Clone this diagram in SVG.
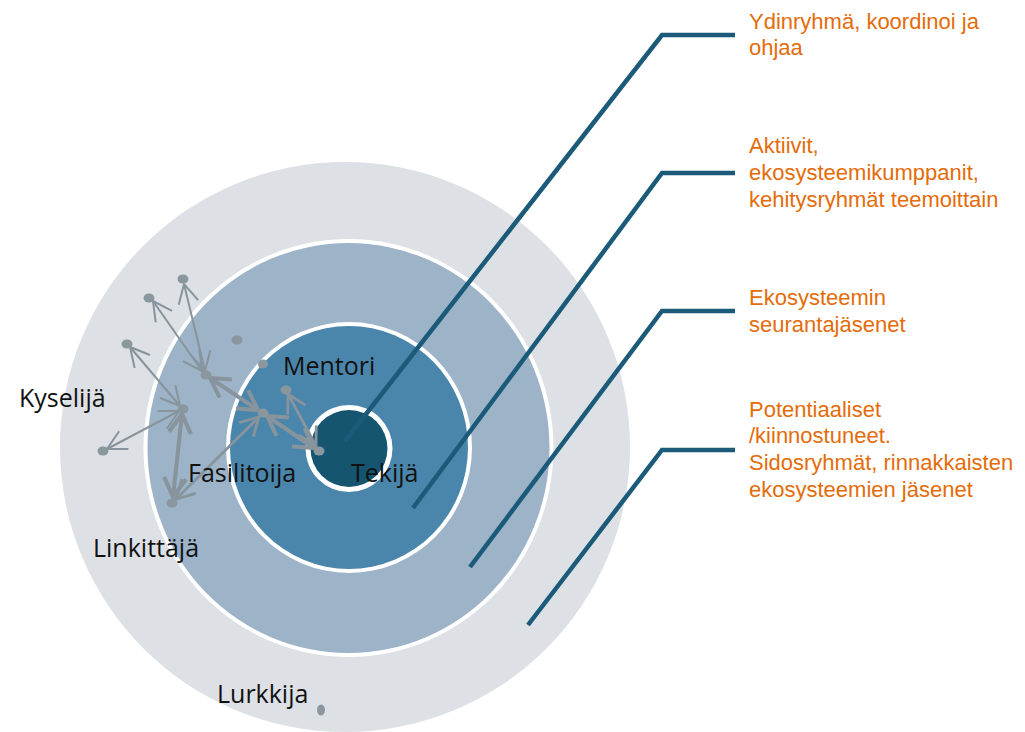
<svg xmlns="http://www.w3.org/2000/svg" width="1025" height="732" viewBox="0 0 1025 732">
<style>
.lbl{font-family:"Open Sans","Liberation Sans",sans-serif;font-size:25px;fill:#111}
.org{font-family:"Liberation Sans","Open Sans",sans-serif;font-size:22px;fill:#e46c0a}
.lead{fill:none;stroke:#1b5a78;stroke-width:4.5;stroke-linejoin:miter}
.dot{fill:#8a979f}
.a1{fill:none;stroke:#87949c;stroke-width:2;marker-start:url(#h1);marker-end:url(#h1)}
.a2{fill:none;stroke:#87949c;stroke-width:2.8;marker-start:url(#h2);marker-end:url(#h2)}
.a3{fill:none;stroke:#87949c;stroke-width:4;marker-start:url(#h3);marker-end:url(#h3)}
</style>
<defs>
<marker id="h1" viewBox="-22 -12 24 24" refX="0" refY="0" markerWidth="24" markerHeight="24" markerUnits="userSpaceOnUse" orient="auto-start-reverse" overflow="visible"><path d="M-19,-10 L0,0 L-19,10" fill="none" stroke="#87949c" stroke-width="2"/></marker>
<marker id="h2" viewBox="-22 -12 24 24" refX="0" refY="0" markerWidth="24" markerHeight="24" markerUnits="userSpaceOnUse" orient="auto-start-reverse" overflow="visible"><path d="M-18,-10 L0,0 L-18,10" fill="none" stroke="#87949c" stroke-width="2.8"/></marker>
<marker id="h3" viewBox="-22 -12 24 24" refX="0" refY="0" markerWidth="24" markerHeight="24" markerUnits="userSpaceOnUse" orient="auto-start-reverse" overflow="visible"><path d="M-19,-11 L0,0 L-19,11" fill="none" stroke="#87949c" stroke-width="4"/></marker>
</defs>
<rect width="1025" height="732" fill="#fff"/>
<g id="ring-outer"><circle cx="345" cy="447" r="285" fill="#dde1e5"/></g>
<g id="ring-middle"><ellipse cx="348.5" cy="448" rx="205" ry="209" fill="#fff"/><ellipse cx="348.5" cy="448" rx="201" ry="205" fill="#9db3c8"/></g>
<g id="ring-inner"><ellipse cx="349" cy="447.5" rx="123" ry="125.5" fill="#fff"/><ellipse cx="349" cy="447.5" rx="119" ry="121.5" fill="#4a86ab"/></g>
<g id="core"><circle cx="349" cy="448.5" r="43.5" fill="#fff"/><circle cx="349" cy="448.5" r="38.5" fill="#16556f"/></g>
<g id="connectors">
<polyline class="lead" points="345,441 662,35 735,35"/>
<polyline class="lead" points="413,508 662,173 735,173"/>
<polyline class="lead" points="470,567 662,311 735,311"/>
<polyline class="lead" points="528,625 662,450 735,450"/>
<path class="a1" d="M205,371 L184,284"/>
<path class="a1" d="M202,371 L153,301"/>
<path class="a1" d="M180,406 L130,347"/>
<path class="a1" d="M179,411 L107,449"/>
<path class="a2" d="M176,499 L259,417"/>
<path class="a2" d="M288,394 L316,446"/>
<path class="a3" d="M182,414 L173,497"/>
<path class="a3" d="M210,378 L258,410"/>
<path class="a3" d="M267,416 L314,448"/>
</g>
<g id="dots">
<ellipse class="dot" cx="183" cy="279" rx="5.5" ry="4.5"/>
<ellipse class="dot" cx="149" cy="298" rx="5.5" ry="4.5"/>
<ellipse class="dot" cx="127" cy="344" rx="5.5" ry="4.5"/>
<ellipse class="dot" cx="237" cy="340" rx="5.5" ry="4.5"/>
<ellipse class="dot" cx="263" cy="364" rx="5" ry="4.5"/>
<ellipse class="dot" cx="206" cy="375" rx="5.5" ry="4.5"/>
<ellipse class="dot" cx="183" cy="409" rx="5.5" ry="4.5"/>
<ellipse class="dot" cx="103" cy="451" rx="5.5" ry="4.5"/>
<ellipse class="dot" cx="286" cy="390" rx="5.5" ry="4.5"/>
<ellipse class="dot" cx="263" cy="413" rx="5.5" ry="4.5"/>
<ellipse class="dot" cx="319" cy="451" rx="5.5" ry="4.5"/>
<ellipse class="dot" cx="172" cy="503" rx="5.5" ry="4.5"/>
<ellipse class="dot" cx="321" cy="710" rx="4" ry="5.5"/>
</g>
<g id="labels-roles">
<text class="lbl" x="283" y="375">Mentori</text>
<text class="lbl" x="19" y="407">Kyselijä</text>
<text class="lbl" x="188" y="482">Fasilitoija</text>
<text class="lbl" x="351" y="482">Tekijä</text>
<text class="lbl" x="93" y="557">Linkittäjä</text>
<text class="lbl" x="217" y="703">Lurkkija</text>
</g>
<g id="label-core"><text class="org" x="749" y="29">Ydinryhmä, koordinoi ja</text><text class="org" x="749" y="55">ohjaa</text></g>
<g id="label-active"><text class="org" x="749" y="153">Aktiivit,</text><text class="org" x="749" y="180">ekosysteemikumppanit,</text><text class="org" x="749" y="207">kehitysryhmät teemoittain</text></g>
<g id="label-followers"><text class="org" x="749" y="305">Ekosysteemin</text><text class="org" x="749" y="332">seurantajäsenet</text></g>
<g id="label-potential"><text class="org" x="749" y="417">Potentiaaliset</text><text class="org" x="749" y="443">/kiinnostuneet.</text><text class="org" x="749" y="470">Sidosryhmät, rinnakkaisten</text><text class="org" x="749" y="497">ekosysteemien jäsenet</text></g>
</svg>
